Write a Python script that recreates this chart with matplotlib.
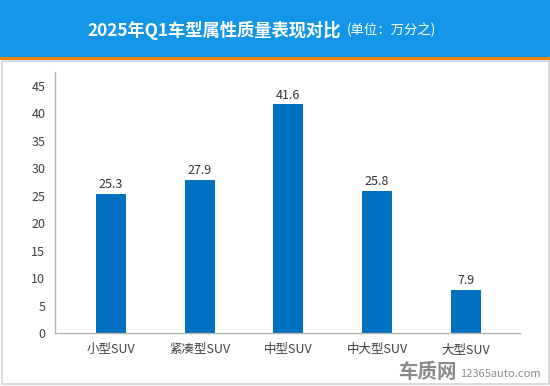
import matplotlib.pyplot as plt
from matplotlib.patches import Rectangle

plt.rcParams['font.family'] = ['Noto Sans CJK SC', 'DejaVu Sans']

categories = ['小型SUV', '紧凑型SUV', '中型SUV', '中大型SUV', '大型SUV']
values = [25.3, 27.9, 41.6, 25.8, 7.9]
yticks = [0, 5, 10, 15, 20, 25, 30, 35, 40, 45]

W, H = 550, 386
fig = plt.figure(figsize=(W / 100, H / 100), dpi=100)

# header band + orange rule + light frame
fig.patches.append(Rectangle((0, 1 - 57 / H), 1, 57 / H, transform=fig.transFigure,
                             facecolor='#1496e8', edgecolor='none', zorder=0))
fig.patches.append(Rectangle((0, 1 - 60 / H), 1, 3 / H, transform=fig.transFigure,
                             facecolor='#f08300', edgecolor='none', zorder=0))
fig.patches.append(Rectangle((1.5 / W, 2.5 / H), (W - 3) / W, (H - 63) / H,
                             transform=fig.transFigure, facecolor='none',
                             edgecolor='#d4d4d4', linewidth=1.2, zorder=0))

fig.text(341 / W, 1 - 30 / H, '2025年Q1车型属性质量表现对比', color='white',
         fontsize=12.4, fontweight='bold', ha='right', va='center')
fig.text(347 / W, 1 - 30 / H, '(单位：万分之)', color='white',
         fontsize=9.6, ha='left', va='center')

ax = fig.add_axes([55 / W, 1 - 333 / H, 465 / W, 261 / H])
x = range(len(categories))
bars = ax.bar(x, values, width=0.34, color='#0070c0', zorder=2)
for xi, v in zip(x, values):
    ax.text(xi, v + 0.5, f'{v}', ha='center', va='bottom', fontsize=9, color='#333333')

ax.set_xlim(-0.63, 4.61)
ax.set_ylim(0, 47.5)
ax.set_yticks(yticks)
ax.set_xticks(list(x))
ax.set_xticklabels(categories)
ax.tick_params(axis='both', length=0, labelsize=9, colors='#404040')
ax.tick_params(axis='y', pad=7)
ax.tick_params(axis='x', pad=7)
for s in ['top', 'right']:
    ax.spines[s].set_visible(False)
for s in ['left', 'bottom']:
    ax.spines[s].set_color('#b4b4b4')
    ax.spines[s].set_linewidth(1)

# watermark
fig.text(427 / W, 1 - 372 / H, '车质网', color='#8a8a8a', fontsize=14,
         fontweight='bold', ha='center', va='center')
fig.text(500 / W, 1 - 374 / H, '12365auto.com', color='#8a8a8a', fontsize=8,
         ha='center', va='center')

fig.savefig('out.png', dpi=100)
